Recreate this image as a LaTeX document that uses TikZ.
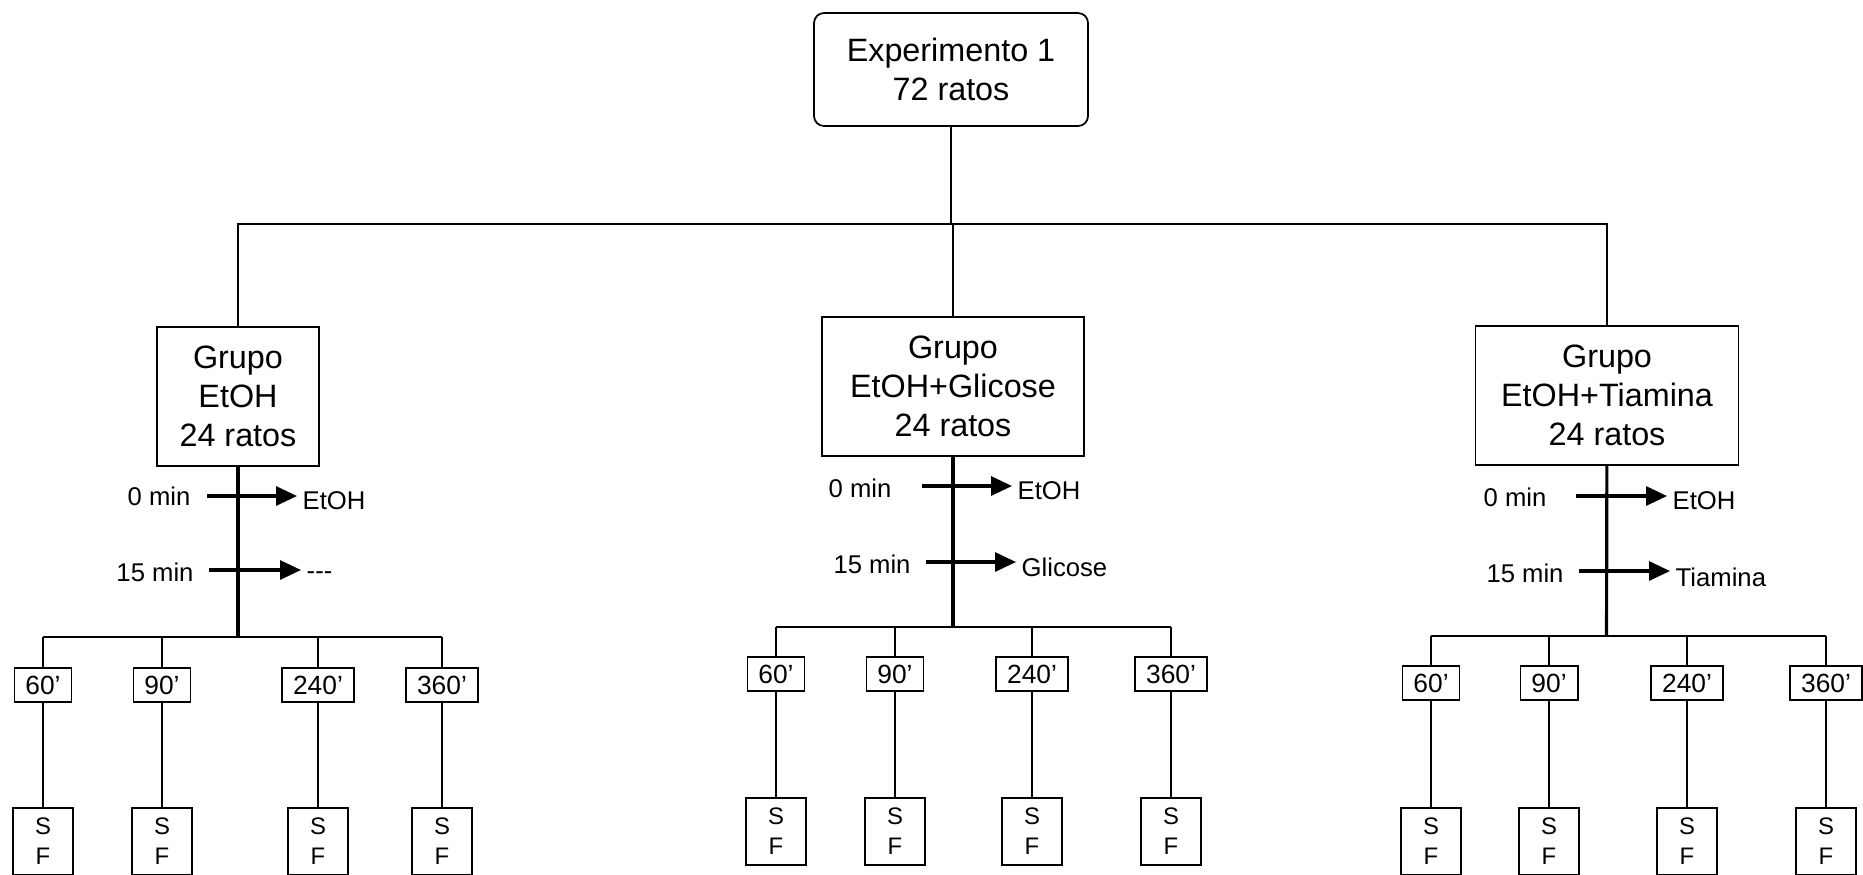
\documentclass[tikz,border=0pt]{standalone}
\usepackage{fontspec}
\setmainfont{Liberation Sans}
\usetikzlibrary{arrows.meta,positioning}

\begin{document}
\begin{tikzpicture}[
    every node/.style={align=center, inner sep=0pt},
    ln/.style={line width=0.5pt},
    thk/.style={line width=0.9pt},
    root/.style={draw, line width=0.5pt, rounded corners=0.1cm, minimum width=2.74cm,
                 minimum height=1.13cm, font=\fontsize{9.2}{11.1}\selectfont},
    grp/.style={draw, line width=0.5pt, minimum height=1.39cm,
                font=\fontsize{9.2}{11.1}\selectfont},
    tbox/.style={draw, line width=0.5pt, inner xsep=0.11cm, minimum height=0.34cm,
                 font=\fontsize{7.5}{9}\selectfont},
    sfbox/.style={draw, line width=0.5pt, minimum width=0.6cm, minimum height=0.67cm,
                  font=\fontsize{6.8}{8.5}\selectfont},
    lbl/.style={font=\fontsize{7.3}{9}\selectfont},
    dlbl/.style={lbl, anchor=west},
    dose/.style={-{Triangle[length=0.21cm,width=0.19cm]}, line width=0.9pt, shorten >=0.05cm}
  ]
  \useasboundingbox (0,0) rectangle (18.63,-8.74);

  % ---- experimento et les trois grupos ----
  \node[root] (exp) at (9.51,-0.695) {Experimento 1\\72 ratos};
  \node[grp, minimum width=1.62cm] (gA) at (2.38,-3.965) {Grupo\\EtOH\\24 ratos};
  \node[grp, minimum width=2.62cm] (gB) at (9.53,-3.865) {Grupo\\EtOH+Glicose\\24 ratos};
  \node[grp, minimum width=2.63cm] (gC) at (16.07,-3.955) {Grupo\\EtOH+Tiamina\\24 ratos};

  \coordinate (bus) at (9.52,-2.24);
  \draw[ln] (exp) -- (exp |- bus);
  \draw[ln] (gA) -- (gA |- bus) -- (gC |- bus) -- (gC);
  \draw[ln] (gB) -- (gB |- bus);

  % ---- grupo EtOH ----
  \coordinate (jA) at (2.38,-6.37);
  \draw[thk] (gA) -- (jA);
  \node[lbl] (tA0) at (1.59,-4.96) {0 min};
  \node[lbl] (tA15) at (1.55,-5.72) {15 min};
  \node[dlbl] (dA0) at (3.02,-5.01) {EtOH};
  \node[dlbl] (dA15) at (3.06,-5.76) {-{}-{}-};
  \coordinate (aA0) at (2.07,-4.96);
  \coordinate (aA15) at (2.09,-5.70);
  \draw[dose] (aA0) -- (aA0 -| dA0.west);
  \draw[dose] (aA15) -- (aA15 -| dA15.west);
  \foreach \x/\lab [count=\i] in {0.43/60’, 1.62/90’, 3.18/240’, 4.42/360’} {
    \node[tbox] (tA\i) at (\x,-6.85) {\lab};
    \node[sfbox] (sA\i) at (\x,-8.415) {S\\F};
    \draw[ln] (tA\i) -- (tA\i |- jA);
    \draw[ln] (tA\i) -- (sA\i);
  }
  \draw[ln] (tA1 |- jA) -- (tA4 |- jA);

  % ---- grupo EtOH+Glicose ----
  \coordinate (jB) at (9.53,-6.27);
  \draw[thk] (gB) -- (jB);
  \node[lbl] (tB0) at (8.60,-4.88) {0 min};
  \node[lbl] (tB15) at (8.72,-5.64) {15 min};
  \node[dlbl] (dB0) at (10.17,-4.91) {EtOH};
  \node[dlbl] (dB15) at (10.21,-5.67) {Glicose};
  \coordinate (aB0) at (9.22,-4.86);
  \coordinate (aB15) at (9.26,-5.62);
  \draw[dose] (aB0) -- (aB0 -| dB0.west);
  \draw[dose] (aB15) -- (aB15 -| dB15.west);
  \foreach \x/\lab [count=\i] in {7.76/60’, 8.95/90’, 10.32/240’, 11.71/360’} {
    \node[tbox] (tB\i) at (\x,-6.74) {\lab};
    \node[sfbox] (sB\i) at (\x,-8.315) {S\\F};
    \draw[ln] (tB\i) -- (tB\i |- jB);
    \draw[ln] (tB\i) -- (sB\i);
  }
  \draw[ln] (tB1 |- jB) -- (tB4 |- jB);

  % ---- grupo EtOH+Tiamina ----
  \coordinate (jC) at (16.065,-6.36);
  \draw[thk] (gC) -- (jC);
  \node[lbl] (tC0) at (15.15,-4.97) {0 min};
  \node[lbl] (tC15) at (15.25,-5.73) {15 min};
  \node[dlbl] (dC0) at (16.72,-5.01) {EtOH};
  \node[dlbl] (dC15) at (16.75,-5.77) {Tiamina};
  \coordinate (aC0) at (15.76,-4.96);
  \coordinate (aC15) at (15.79,-5.71);
  \draw[dose] (aC0) -- (aC0 -| dC0.west);
  \draw[dose] (aC15) -- (aC15 -| dC15.west);
  \foreach \x/\lab [count=\i] in {14.31/60’, 15.49/90’, 16.87/240’, 18.26/360’} {
    \node[tbox] (tC\i) at (\x,-6.83) {\lab};
    \node[sfbox] (sC\i) at (\x,-8.415) {S\\F};
    \draw[ln] (tC\i) -- (tC\i |- jC);
    \draw[ln] (tC\i) -- (sC\i);
  }
  \draw[ln] (tC1 |- jC) -- (tC4 |- jC);

\end{tikzpicture}
\end{document}
